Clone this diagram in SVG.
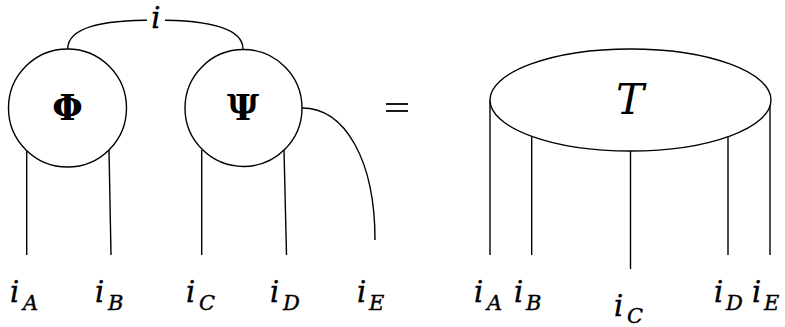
<svg xmlns="http://www.w3.org/2000/svg" width="785" height="327" viewBox="0 0 785 327">
<style>
.w{fill:none;stroke:#000;stroke-width:1.4}
.n{fill:#fff;stroke:#000;stroke-width:1.4}
.m{font-family:"DejaVu Serif","Liberation Serif",serif;font-style:italic;fill:#000}
.g{font-family:"DejaVu Serif","Liberation Serif",serif;font-weight:bold;fill:#000;font-size:35px;text-anchor:middle}
.s{font-size:21px}
.b{font-size:29px;stroke:#000;stroke-width:0.4}
</style>
<rect width="785" height="327" fill="#fff"/>
<g id="connectors">
<path class="w" d="M67.7,49 C67.7,28 100,20 155,20 C210,20 243,28 243,49"/>
<line class="w" x1="26.7" y1="150" x2="26.7" y2="255"/>
<line class="w" x1="109" y1="150" x2="111" y2="255"/>
<line class="w" x1="201.7" y1="150" x2="201.7" y2="255"/>
<line class="w" x1="284" y1="150" x2="286.5" y2="255"/>
<path class="w" d="M302,108 C345,108 375,160 375,240"/>
<line class="w" x1="490" y1="100" x2="490" y2="255"/>
<line class="w" x1="531.7" y1="136" x2="531.7" y2="255"/>
<line class="w" x1="630.5" y1="151" x2="630.5" y2="269"/>
<line class="w" x1="728" y1="136" x2="728" y2="255"/>
<line class="w" x1="770" y1="100" x2="770" y2="255"/>
<rect x="147" y="8" width="18" height="22" fill="#fff"/>
<text class="m b" x="156" y="28" text-anchor="middle">i</text>
</g>
<g id="phi">
<circle class="n" cx="67.5" cy="108" r="59"/>
<text class="g" x="67.5" y="120">Φ</text>
</g>
<g id="psi">
<circle class="n" cx="243.5" cy="108" r="58.5"/>
<text class="g" x="243" y="120">Ψ</text>
</g>
<g id="equals">
<line x1="386" y1="104" x2="408" y2="104" stroke="#000" stroke-width="1.8"/>
<line x1="386" y1="111" x2="408" y2="111" stroke="#000" stroke-width="1.8"/>
</g>
<g id="tensor">
<ellipse class="n" cx="630.5" cy="100" rx="140.5" ry="51"/>
<text class="m" x="630" y="114" font-size="42" text-anchor="middle">T</text>
</g>
<g id="labels">
<text class="m b" x="10" y="302">i<tspan class="s" x="23" y="310">A</tspan></text>
<text class="m b" x="95" y="302">i<tspan class="s" x="108" y="310">B</tspan></text>
<text class="m b" x="186" y="302">i<tspan class="s" x="199" y="310">C</tspan></text>
<text class="m b" x="270" y="302">i<tspan class="s" x="283" y="310">D</tspan></text>
<text class="m b" x="357" y="302">i<tspan class="s" x="369" y="310">E</tspan></text>
<text class="m b" x="474" y="302">i<tspan class="s" x="487" y="310">A</tspan></text>
<text class="m b" x="514" y="302">i<tspan class="s" x="526" y="310">B</tspan></text>
<text class="m b" x="614" y="316">i<tspan class="s" x="627" y="323">C</tspan></text>
<text class="m b" x="714" y="302">i<tspan class="s" x="726" y="310">D</tspan></text>
<text class="m b" x="752" y="302">i<tspan class="s" x="764" y="310">E</tspan></text>
</g>
</svg>
